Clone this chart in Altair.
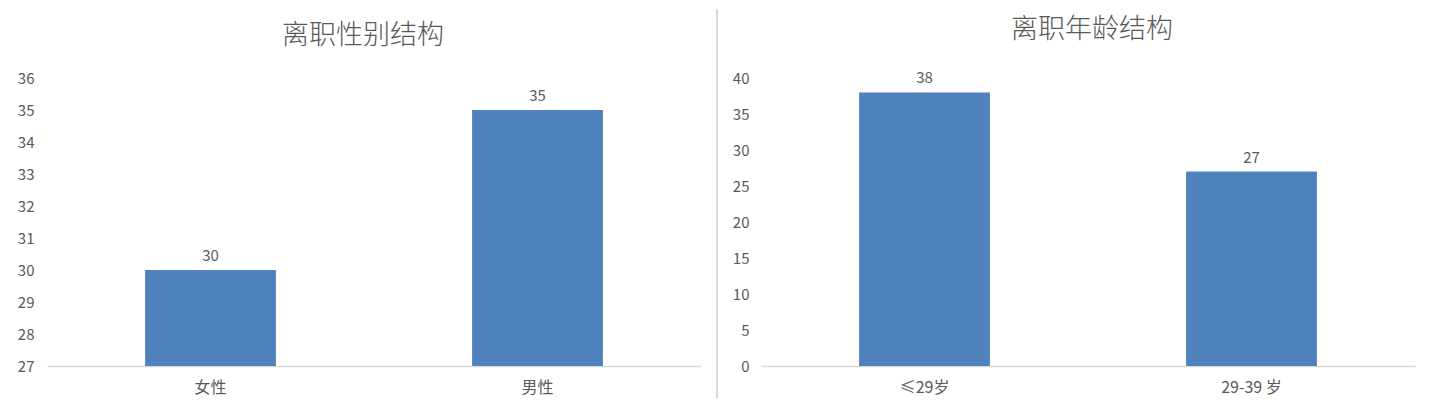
import altair as alt
import pandas as pd

# ---- data ----
gender_cats = ["女性", "男性"]
gender_vals = [30, 35]
age_cats = ["≤29岁", "29-39 岁"]
age_vals = [38, 27]
gender_ticks = list(range(27, 37))
age_ticks = list(range(0, 45, 5))

FONT = "Noto Sans CJK SC"
GRAY = "#595959"
BAR = "#4F81BD"
LINE = "#d9d9d9"


def panel(cats, vals, ymin, ymax, ticks, title, title_dx, title_offset, label_pad, sep=False):
    df = pd.DataFrame({"cat": cats, "val": vals})
    base = alt.Chart(df).encode(
        x=alt.X("cat:N", sort=cats,
                scale=alt.Scale(paddingInner=0.6, paddingOuter=0.3),
                axis=alt.Axis(title=None, labelAngle=0, ticks=False, tickSize=0,
                              domainColor=LINE, domainWidth=1.5,
                              labelFont=FONT, labelFontSize=16, labelColor=GRAY,
                              labelPadding=13)),
        y=alt.Y("val:Q",
                scale=alt.Scale(domain=[ymin, ymax], nice=False, zero=False),
                axis=alt.Axis(title=None, values=ticks, domain=False, ticks=False,
                              tickSize=0, grid=False, labelFont=FONT,
                              labelFontSize=15, labelColor=GRAY,
                              labelPadding=label_pad)),
    )
    bars = base.mark_bar(color=BAR).encode(y2=alt.datum(ymin))
    text = base.mark_text(baseline="alphabetic", dy=-9, font=FONT, fontSize=15,
                          color=GRAY).encode(text="val:Q")
    layers = [bars, text]
    if sep:
        rule = alt.Chart(pd.DataFrame({"a": [0]})).mark_rule(
            color=LINE, strokeWidth=2).encode(
            x=alt.value(670), y=alt.value(-69), y2=alt.value(320))
        layers.append(rule)
    return alt.layer(*layers).properties(
        width=654, height=288,
        title=alt.TitleParams(title, font=FONT, fontSize=27, fontWeight=300,
                              color=GRAY, anchor="middle", dx=title_dx,
                              offset=title_offset),
    )


left = panel(gender_cats, gender_vals, 27, 36, gender_ticks, "离职性别结构",
             -11, -42, 13, sep=True)
right = panel(age_cats, age_vals, 0, 40, age_ticks, "离职年龄结构",
              4, 27, 12)

chart = alt.hconcat(left, right, spacing=14).properties(
    padding={"left": 9, "top": 0, "right": 5, "bottom": 0}
).configure_view(stroke=None)

chart.save("out.html", embed_options={"renderer": "svg", "actions": False})
